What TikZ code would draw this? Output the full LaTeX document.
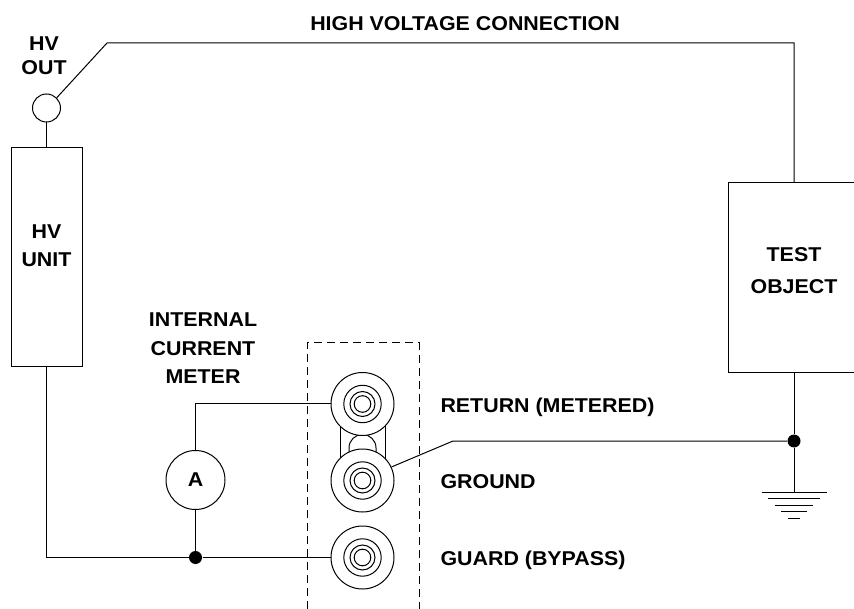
\documentclass[tikz,border=0pt]{standalone}
\usepackage{fontspec}
\setmainfont{Liberation Sans}[FakeStretch=1.07]
\usepackage{tikz}
\usetikzlibrary{positioning}

\tikzset{
  lbl/.style={font=\bfseries\fontsize{20}{28}\selectfont, align=center, inner sep=0pt},
  unitbox/.style={draw, rectangle, inner sep=0pt},
  jackring/.style={circle, draw, fill=white, minimum size=63pt, inner sep=0pt},
  junction/.style={circle, fill, inner sep=0pt, minimum size=13pt},
}

\begin{document}
\begin{tikzpicture}[x=1pt, y=-1pt, line width=1pt]
  \useasboundingbox (0,0) rectangle (854,609);

  % Define coordinates
  \coordinate (bend) at (107,43);
  \coordinate (kink) at (453,441);
  \coordinate (earth) at (794,492);

  % Boxes
  \node[unitbox, minimum width=71pt, minimum height=219pt] (hvunit) at (46.5,257.5) {};
  \node[unitbox, minimum width=132pt, minimum height=190pt] (testobj) at (794,278) {};
  \node[circle, draw, inner sep=0pt, minimum size=28pt] (hvout) at (46.5,108) {};

  % Dashed panel
  \draw[dash pattern=on 8pt off 5pt] (307,609) -- (307,343) -- (419,343) -- (419,609);

  % Link between return and ground
  \draw (340,404) rectangle (385,480.5);
  \draw[rounded corners=13.4pt] (349,490) rectangle (376,434.5);

  % Jacks
  \node[jackring] (ret) at (362.5,404) {};
  \node[jackring] (gnd) at (362.5,480.5) {};
  \node[jackring] (grd) at (362.5,557.5) {};
  \foreach \j in {ret,gnd,grd}
    \foreach \r in {18.7,12.5,8.3}
      \draw (\j) circle (\r pt);

  % Ammeter
  \node[circle, draw, minimum size=59pt, lbl] (ammeter) at (195.5,480) {A};

  % Junctions
  \node[junction] (jA) at (195.5,557.5) {};
  \node[junction] (jB) at (794,441) {};

  % Wires
  \draw (hvunit.north) -- (hvout.south);
  \draw (hvout.45) -- (bend) -| (testobj.north);
  \draw (testobj.south) -- (jB) -- (earth);
  \draw (gnd.25) -- (kink) -- (jB);
  \draw (hvunit.south) |- (jA) -- (grd.west);
  \draw (jA) -- (ammeter.south);
  \draw (ammeter.north) |- (ret.west);

  % Ground symbol
  \foreach \w [count=\i from 0] in {32.5,26,19,13,6}
    \draw (794-\w,492+6.5*\i) -- (794+\w,492+6.5*\i);

  % Add labels
  \node[lbl] (hvconn) at (465,24) {HIGH VOLTAGE CONNECTION};
  \node[lbl, font=\bfseries\fontsize{20}{24}\selectfont] (hvoutlbl) at (44,56) {HV\\OUT};
  \node[lbl] (hvunitlbl) at (46.5,246) {HV\\UNIT};
  \node[lbl, font=\bfseries\fontsize{20}{32}\selectfont] (testlbl) at (794,271) {TEST\\OBJECT};
  \node[lbl, font=\bfseries\fontsize{20}{28.5}\selectfont] (meterlbl) at (203,348.5) {INTERNAL\\CURRENT\\METER};
  \node[lbl, anchor=base west] (retlbl) at (440,413) {RETURN (METERED)};
  \node[lbl, anchor=base west] (gndlbl) at (440,488) {GROUND};
  \node[lbl, anchor=base west] (grdlbl) at (440,565) {GUARD (BYPASS)};
\end{tikzpicture}
\end{document}
